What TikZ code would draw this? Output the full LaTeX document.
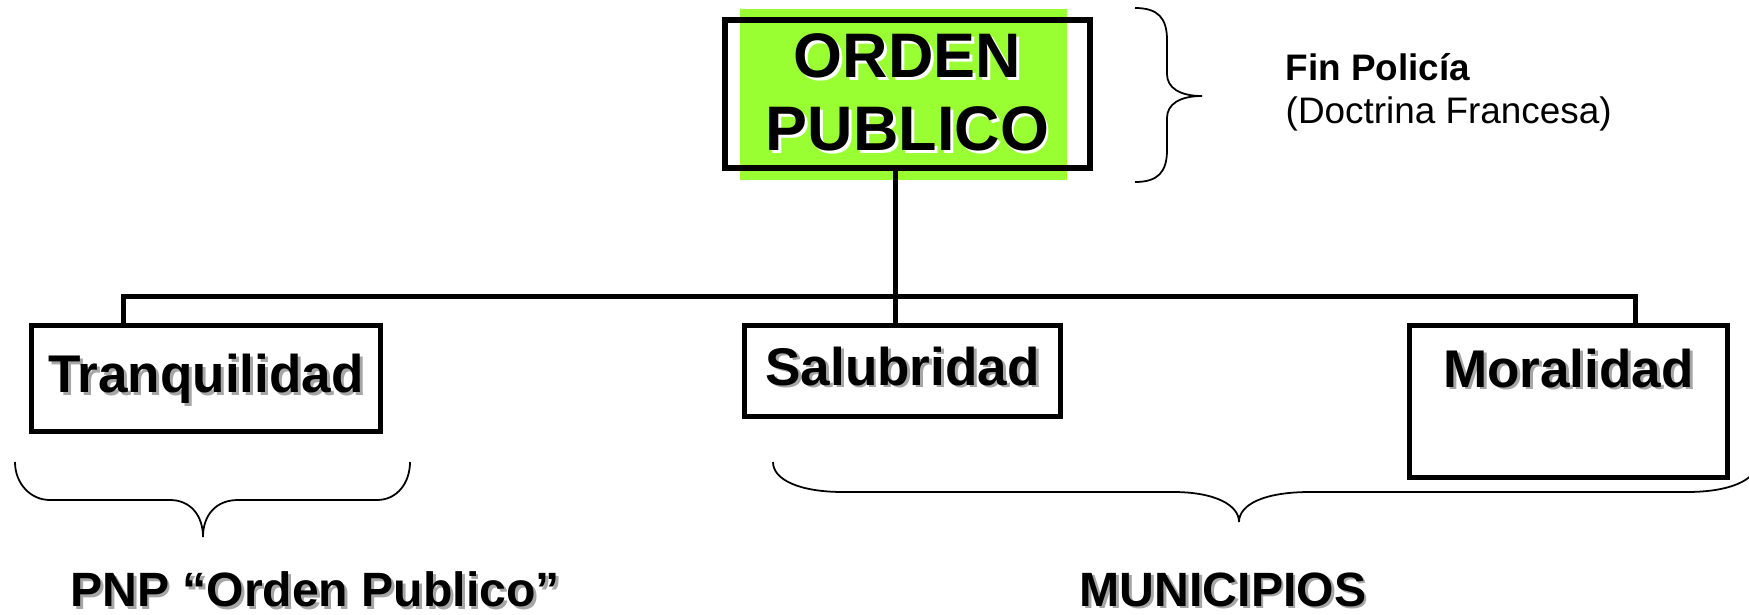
\documentclass[tikz,border=0pt]{standalone}
\usepackage{fontspec}
\setmainfont{Liberation Sans}
\usetikzlibrary{calc}
\definecolor{ordengreen}{HTML}{99FF33}
\newcommand{\shadowed}[2][black!35]{\leavevmode\rlap{\hspace{0.8pt}\raisebox{-0.8pt}{\textcolor{#1}{#2}}}#2}

\tikzset{
  topbox/.style={draw, line width=0.06cm, minimum width=3.65cm, minimum height=1.48cm, align=center,
    font=\fontsize{17.9pt}{20.8pt}\selectfont\bfseries},
  catbox/.style={draw, line width=0.05cm, inner sep=0pt, text height=0.39cm, text depth=0.11cm,
    font=\fontsize{15.1pt}{18pt}\selectfont\bfseries},
  link/.style={line width=0.05cm},
  curly/.style={line width=0.5pt},
  foot/.style={font=\fontsize{13.7pt}{16pt}\selectfont\bfseries}
}

\begin{document}
\begin{tikzpicture}
			%%%%% START %%%%%
			\useasboundingbox (0, 0) rectangle (17.49, -6.15);
			
			\fill[ordengreen] (7.40, -0.09) rectangle (10.67, -1.80);
			\node[topbox] (orden) at (9.075, -0.94) {\shadowed[white]{ORDEN}\\\shadowed[white]{PUBLICO}};
			
			\node[catbox, minimum width=3.49cm, minimum height=1.06cm] (tranq) at (2.06, -3.785) {\shadowed{Tranquilidad}};
			\node[catbox, minimum width=3.16cm, minimum height=0.91cm] (salub) at (9.025, -3.71) {\shadowed{Salubridad}};
			\node[catbox, minimum width=3.18cm, minimum height=1.52cm, text depth=0.68cm] (moral) at (15.685, -4.015) {\shadowed{Moralidad}};
			
			\coordinate (busL) at (1.23, -2.96);
			\coordinate (busM) at (8.95, -2.96);
			\coordinate (busR) at (16.35, -2.96);
			\draw[link] (busL |- tranq.north) -- (busL) -- (busR) -- (busR |- moral.north);
			\draw[link] (busM |- orden.south) -- (busM |- salub.north);
			
			% brace and note on the right of the top box
			\draw[curly] (11.35, -0.08) .. controls (11.58, -0.08) and (11.67, -0.18) .. (11.67, -0.40) -- (11.67, -0.74)
				.. controls (11.67, -0.88) and (11.80, -0.96) .. (12.02, -0.96)
				.. controls (11.80, -0.96) and (11.67, -1.04) .. (11.67, -1.18) -- (11.67, -1.50)
				.. controls (11.67, -1.72) and (11.58, -1.82) .. (11.35, -1.82);
			\node[anchor=west, inner sep=0pt, align=left, font=\fontsize{10.5pt}{12.2pt}\selectfont] (fin) at (12.85, -0.92) {\textbf{Fin Policía}\\(Doctrina Francesa)};
			
			% lower braces
			\draw[curly] (0.15, -4.62) .. controls (0.15, -4.83) and (0.30, -5.00) .. (0.50, -5.00) -- (1.70, -5.00)
				.. controls (1.90, -5.00) and (2.03, -5.15) .. (2.03, -5.37)
				.. controls (2.03, -5.15) and (2.16, -5.00) .. (2.38, -5.00) -- (3.77, -5.00)
				.. controls (3.97, -5.00) and (4.10, -4.83) .. (4.10, -4.62);
			\draw[curly] (7.73, -4.62) .. controls (7.73, -4.80) and (8.00, -4.92) .. (8.43, -4.92) -- (11.73, -4.92)
				.. controls (12.15, -4.92) and (12.39, -5.05) .. (12.39, -5.22)
				.. controls (12.39, -5.05) and (12.63, -4.92) .. (13.10, -4.92) -- (16.87, -4.92)
				.. controls (17.30, -4.92) and (17.57, -4.80) .. (17.57, -4.62);
			
			\node[foot] (pnp) at (3.15, -5.91) {\shadowed{PNP “Orden Publico”}};
			\node[foot] (muni) at (12.23, -5.91) {\shadowed{MUNICIPIOS}};
			
			%%%%% END %%%%%
\end{tikzpicture}
\end{document}
